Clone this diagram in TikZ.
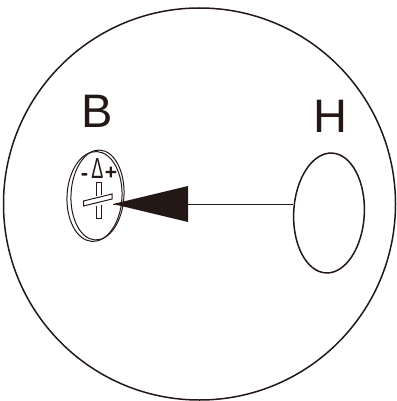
\documentclass[tikz,border=0pt]{standalone}
\usepackage{fontspec}
\setmainfont{Liberation Sans}
\definecolor{ink}{HTML}{231815}
\tikzset{
  ln/.style={draw=ink, line width=1.5pt},
  mid ln/.style={draw=ink, line width=1pt},
  big/.style={inner sep=0pt, font=\fontsize{47}{47}\selectfont, text=ink},
  small/.style={inner sep=0pt, text=ink}
}
\begin{document}
\begin{tikzpicture}[x=1pt,y=-1pt]
\useasboundingbox (0,0) rectangle (396,401);
\draw[ln] (199.5,204) circle[radius=196];
\node[big] (B) at (97.5,111) {B};
\node[big] (H) at (330,116) {H};
% H ellipse
\draw[ln, rotate around={-3:(329,213)}] (329,213) ellipse[x radius=35.3, y radius=60];
\coordinate (hole) at (293,204);
% screw head
\draw[mid ln, rotate around={-3:(97.5,195)}] (97.5,195) ellipse[x radius=26.5, y radius=45];
\draw[mid ln, rotate around={-3:(94.5,196.5)}] (94.5,196.5) ellipse[x radius=27.5, y radius=45];
% cross slot
\draw[mid ln] (96,182) -- (101,182) -- (101,194.5) (96,206) -- (96,218) -- (101,218) -- (101,204.5) (96,182) -- (96,196);
\draw[mid ln] (83.5,201) -- (112,194) -- (112,199) -- (83.5,206) -- cycle;
% markings
\node[small, font=\fontsize{22}{22}\selectfont\bfseries] (minus) at (84.5,176.5) {-};
\node[small, font=\fontsize{29}{29}\selectfont, xscale=.62] (delta) at (97.5,168.5) {Δ};
\node[small, font=\fontsize{21}{21}\selectfont\bfseries] (plus) at (111,173.5) {+};
% arrow
\coordinate (tip) at (113,204);
\fill[ink] (tip) -- (188,186) -- (188,222) -- cycle;
\draw[mid ln] (hole) -- (tip);
\end{tikzpicture}
\end{document}
